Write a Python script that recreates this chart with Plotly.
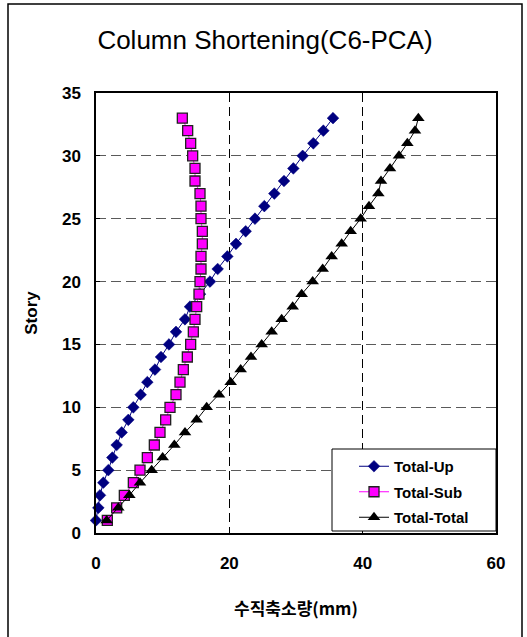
import plotly.graph_objects as go

stories = list(range(1, 34))

total_up = [0.0, 0.35, 0.6, 1.1, 1.85, 2.45, 3.1, 3.85, 4.85, 5.6,
            6.7, 7.7, 8.85, 9.75, 10.95, 12.0, 13.35, 14.1, 15.6, 17.1,
            18.25, 19.7, 21.0, 22.45, 23.85, 25.25, 26.75, 28.2, 29.6, 31.0,
            32.6, 34.1, 35.55]

total_sub = [1.7, 3.1, 4.25, 5.6, 6.6, 7.7, 8.75, 9.6, 10.45, 11.1,
             12.0, 12.6, 13.1, 13.7, 14.2, 14.6, 14.85, 15.1, 15.45, 15.6,
             15.75, 15.75, 15.95, 15.95, 15.75, 15.75, 15.6, 14.85, 14.85, 14.5,
             14.2, 13.75, 12.95]

total_total = [1.6, 3.35, 5.0, 6.6, 8.35, 10.0, 11.75, 13.35, 15.1, 16.6,
               18.45, 20.2, 21.7, 23.25, 24.85, 26.35, 27.85, 29.5, 30.85, 32.5,
               34.0, 35.35, 36.85, 38.2, 39.7, 40.95, 42.35, 42.75, 44.1, 45.45,
               46.7, 47.85, 48.35]

title_text = "Column Shortening(C6-PCA)"
x_title = "수직축소량(mm)"
y_title = "Story"

fig = go.Figure()
fig.add_trace(go.Scatter(
    x=total_up, y=stories, name="Total-Up", mode="lines+markers",
    line=dict(color="#000080", width=1),
    marker=dict(symbol="diamond", size=9, color="#000080",
                line=dict(color="#000080", width=0.5)),
    cliponaxis=False, legendgroup="a"))
fig.add_trace(go.Scatter(
    x=total_sub, y=stories, name="Total-Sub", mode="lines+markers",
    line=dict(color="#FF00FF", width=1),
    marker=dict(symbol="square", size=10, color="#FF00FF",
                line=dict(color="#202020", width=1.3)),
    cliponaxis=False, legendgroup="b"))
fig.add_trace(go.Scatter(
    x=total_total, y=stories, name="Total-Total", mode="lines+markers",
    line=dict(color="#000000", width=1),
    marker=dict(symbol="triangle-up", size=11, color="#000000"),
    cliponaxis=False, legendgroup="c"))

font_main = "Liberation Sans, Arial, sans-serif"

fig.update_layout(
    width=527, height=637,
    margin=dict(l=96, r=31, t=93, b=104),
    paper_bgcolor="white", plot_bgcolor="white",
    title=dict(text=title_text, x=265 / 527, xanchor="center",
               y=1 - 40 / 637, yanchor="middle",
               font=dict(family=font_main, size=26, color="black")),
    xaxis=dict(range=[0, 60], dtick=20, tick0=0,
               showgrid=True, gridcolor="black", griddash="9px,5px", gridwidth=1,
               showline=True, linecolor="black", linewidth=1.5, mirror=True,
               ticks="inside", ticklen=4, tickcolor="black",
               zeroline=False, ticklabelstandoff=14,
               tickfont=dict(family=font_main, size=17, color="black", weight="bold"),
               title=dict(text=x_title, standoff=31,
                          font=dict(family="Noto Sans CJK KR", size=17, color="black",
                                    weight="bold"))),
    yaxis=dict(range=[0, 35], dtick=5, tick0=0,
               showgrid=True, gridcolor="#5a5a5a", griddash="10px,5px", gridwidth=1,
               showline=True, linecolor="black", linewidth=1.5, mirror=True,
               ticks="inside", ticklen=4, tickcolor="black",
               zeroline=False, ticklabelstandoff=10,
               tickfont=dict(family=font_main, size=17, color="black", weight="bold"),
               title=dict(text=y_title, standoff=20,
                          font=dict(family=font_main, size=17, color="black",
                                    weight="bold"))),
    legend=dict(x=(354 - 96) / 400, y=(533 - 450) / 440, xanchor="left", yanchor="top",
                bgcolor="rgba(0,0,0,0)", borderwidth=0,
                traceorder="grouped", tracegroupgap=3,
                font=dict(family=font_main, size=15, color="black", weight="bold")),
    showlegend=True,
)

# legend frame
fig.add_shape(type="rect", xref="paper", yref="paper",
              x0=(332 - 96) / 400, x1=(496 - 96) / 400,
              y0=(533 - 531) / 440, y1=(533 - 449) / 440,
              line=dict(color="black", width=1), fillcolor="white",
              layer="above")

# outer chart frame
fig.add_shape(type="rect", xref="paper", yref="paper",
              x0=(8 - 96) / 400, x1=(522 - 96) / 400,
              y0=(533 - 645) / 440, y1=(533 - 4) / 440,
              line=dict(color="black", width=1.5), fillcolor="rgba(0,0,0,0)",
              layer="below")

fig.write_html("out.html", config={"displayModeBar": False},
               post_script="document.body.style.margin='0';document.body.style.overflow='hidden';")
